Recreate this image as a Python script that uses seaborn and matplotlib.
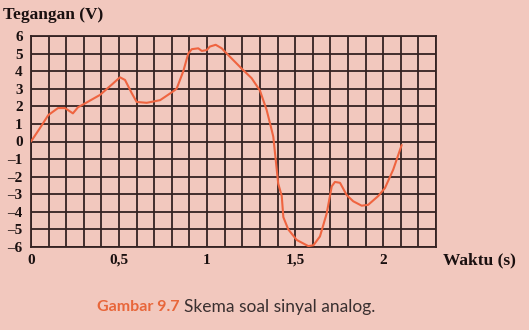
import numpy as np
import pandas as pd
import seaborn as sns
import matplotlib.pyplot as plt
from matplotlib.ticker import MultipleLocator, FixedLocator

# Data
waktu = [0.0, 0.05, 0.098, 0.153, 0.193, 0.238, 0.267, 0.295, 0.392, 0.466, 0.505, 0.534,
         0.572, 0.6, 0.657, 0.733, 0.8, 0.827, 0.865, 0.893, 0.913, 0.95, 0.97, 0.998,
         1.016, 1.049, 1.083, 1.102, 1.196, 1.253, 1.3, 1.338, 1.367, 1.376, 1.404, 1.424,
         1.433, 1.461, 1.509, 1.575, 1.604, 1.641, 1.679, 1.708, 1.726, 1.755, 1.793,
         1.83, 1.878, 1.915, 1.972, 2.01, 2.057, 2.105]
tegangan = [0.0, 0.75, 1.5, 1.9, 1.9, 1.6, 1.95, 2.1, 2.65, 3.3, 3.65, 3.5,
            2.75, 2.25, 2.2, 2.35, 2.8, 3.0, 4.0, 5.0, 5.25, 5.3, 5.15, 5.2,
            5.4, 5.5, 5.3, 5.1, 4.15, 3.6, 2.9, 1.8, 0.65, 0.27, -2.4, -3.1,
            -4.3, -5.0, -5.6, -5.95, -5.9, -5.4, -4.1, -2.55, -2.3, -2.35, -3.05,
            -3.4, -3.65, -3.6, -3.1, -2.65, -1.6, -0.2]
x_ticks = [0, 0.5, 1, 1.5, 2]
x_labels = ["0", "0,5", "1", "1,5", "2"]
y_ticks = list(range(-6, 7))
y_labels = [str(v).replace("-", "\u2013") for v in y_ticks]

df = pd.DataFrame({"Waktu": waktu, "Tegangan": tegangan})

bg = "#f2c8be"
grid_c = "#352222"
curve_c = "#ef6440"

sns.set_style("white")
plt.rcParams['font.family'] = ['Liberation Serif', 'DejaVu Serif']

fig = plt.figure(figsize=(5.29, 3.30), dpi=100, facecolor=bg)
ax = fig.add_axes([31/529, 1-247/330, (436-31)/529, (247-36)/330])
ax.set_facecolor(bg)

sns.lineplot(data=df, x="Waktu", y="Tegangan", ax=ax, color=curve_c, lw=1.5,
             sort=False, zorder=3)

ax.set_xlim(0, 2.3)
ax.set_ylim(-6, 6)
ax.xaxis.set_major_locator(FixedLocator(x_ticks))
ax.set_xticklabels(x_labels)
ax.xaxis.set_minor_locator(MultipleLocator(0.1))
ax.set_yticks(y_ticks)
ax.set_yticklabels(y_labels)
ax.grid(which="both", color=grid_c, lw=1.3)
ax.set_axisbelow(True)
for s in ax.spines.values():
    s.set_color(grid_c)
    s.set_linewidth(1.3)
ax.tick_params(which="both", length=0)
ax.tick_params(axis="y", pad=6, labelsize=11, labelcolor="#1a1010")
ax.tick_params(axis="x", pad=5, labelsize=11, labelcolor="#1a1010")
for lbl in ax.get_xticklabels() + ax.get_yticklabels():
    lbl.set_fontweight("bold")
ax.set_xlabel("")
ax.set_ylabel("")

fig.text(3/529, 1-19/330, "Tegangan (V)", fontsize=12.5, fontweight="bold",
         color="#1a1010", va="baseline", ha="left")
fig.text(443/529, 1-260/330, "Waktu (s)", fontsize=12.5, fontweight="bold",
         color="#1a1010", va="center", ha="left")

t1 = fig.text(97/529, 1-307/330, "Gambar 9.7", fontsize=11.5, fontweight="bold",
              color="#e8663a", va="center", ha="left", family=["Lato", "DejaVu Sans"])
fig.canvas.draw()
bb = t1.get_window_extent()
fig.text(bb.x1/fig.bbox.width + 5/529, 1-307/330, "Skema soal sinyal analog.",
         fontsize=12.5, color="#3a3030", va="center", ha="left",
         family=["Lato", "DejaVu Sans"])

fig.savefig("out.png", dpi=100, facecolor=bg)
